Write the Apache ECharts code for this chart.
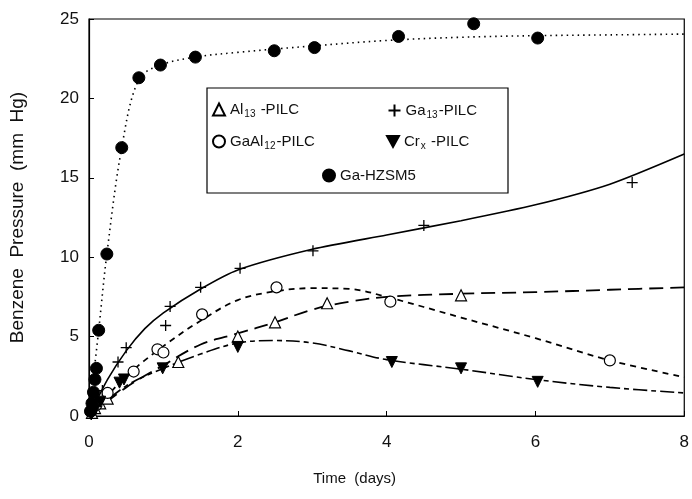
<!DOCTYPE html>
<html>
<head>
<meta charset="utf-8">
<script src="https://cdn.jsdelivr.net/npm/echarts@6/dist/echarts.min.js"></script>
<style>html,body{margin:0;padding:0;background:#fff;}#c{width:692px;height:499px;}</style>
</head>
<body>
<div id="c"></div>
<script>
// ---- data ----
const xTicks = [0, 2, 4, 6, 8];
const yTicks = [0, 5, 10, 15, 20, 25];

const al13Pts   = [[0.04,0.2],[0.08,0.5],[0.15,0.8],[0.25,1.1],[1.2,3.4],[2.0,5.0],[2.5,5.9],[3.2,7.1],[5.0,7.6]];
const ga13Pts   = [[0.04,0.4],[0.1,0.9],[0.18,1.6],[0.39,3.4],[0.5,4.3],[1.03,5.7],[1.09,6.9],[1.5,8.1],[2.03,9.3],[3.01,10.4],[4.5,12.0],[7.3,14.7]];
const gaal12Pts = [[0.03,0.3],[0.1,0.7],[0.25,1.45],[0.6,2.8],[0.92,4.2],[1.0,4.0],[1.52,6.4],[2.52,8.1],[4.05,7.2],[7.0,3.5]];
const crxPts    = [[0.03,0.1],[0.08,0.4],[0.15,0.9],[0.41,2.1],[0.47,2.3],[0.99,3.0],[2.0,4.35],[4.07,3.4],[5.0,3.0],[6.03,2.15]];
const hzsm5Pts  = [[0.02,0.3],[0.04,0.8],[0.06,1.5],[0.08,2.3],[0.1,3.0],[0.13,5.4],[0.24,10.2],[0.44,16.9],[0.67,21.3],[0.96,22.1],[1.43,22.6],[2.49,23.0],[3.03,23.2],[4.16,23.9],[5.17,24.7],[6.03,23.8]];

// fitted curves as drawn in the picture
const al13Curve   = [[0,0],[0.5,1.8],[1,3.2],[1.5,4.5],[2,5.2],[2.5,5.9],[3,6.7],[3.5,7.2],[4,7.5],[5,7.7],[6,7.8],[7,7.95],[8,8.1]];
const ga13Curve   = [[0,0],[0.25,2.3],[0.5,4.1],[0.75,5.5],[1,6.5],[1.5,8.0],[2,9.2],[3,10.5],[4,11.4],[5,12.3],[6,13.3],[7,14.6],[8,16.5]];
const gaal12Curve = [[0,0],[0.5,2.5],[1,4.4],[1.5,6.0],[2,7.3],[2.5,7.85],[3,8.05],[3.5,8.0],[4,7.5],[5,6.2],[6,4.9],[7,3.5],[8,2.45]];
const crxCurve    = [[0,0],[0.5,1.9],[1,3.0],[1.5,3.9],[2,4.6],[2.5,4.75],[3,4.6],[3.5,4.1],[4,3.55],[5,2.95],[6,2.3],[7,1.8],[8,1.45]];
const hzsm5Curve  = [[0,0],[0.13,5.4],[0.24,10.2],[0.44,16.9],[0.67,21.2],[0.96,22.1],[1.43,22.6],[2,22.9],[3,23.3],[4,23.65],[5,23.85],[6,23.95],[7,24.0],[8,24.05]];

const names = ['Al13-PILC','Ga13-PILC','GaAl12-PILC','Crx-PILC','Ga-HZSM5'];
const richNames = {
  'Al13-PILC':   '{t|Al}{s|13}{t| -PILC}',
  'Ga13-PILC':   '{t|Ga}{s|13}{t|-PILC}',
  'GaAl12-PILC': '{t|GaAl}{s|12}{t|-PILC}',
  'Crx-PILC':    '{t|Cr}{s|x}{t| -PILC}',
  'Ga-HZSM5':    '{t|Ga-HZSM5}'
};
const legendIcons = {
  'Crx-PILC': 'path://M0,0L12,0L6,11Z'
};

const FONT = 'Liberation Sans';
const chart = echarts.init(document.getElementById('c'));

function curve(data, type, width, smooth) {
  return {
    type: 'line', data: data, smooth: smooth, symbol: 'none', silent: true,
    lineStyle: { color: '#000', width: width, type: type }, z: 2
  };
}
function pts(name, data, symbol, itemStyle, size, rotate) {
  return {
    type: 'scatter', name: name, data: data, symbol: symbol, symbolSize: size,
    symbolRotate: rotate || 0, itemStyle: Object.assign({ opacity: 1 }, itemStyle), z: 3
  };
}

const legendPos = [
  { left: 212, top: 102 },
  { left: 386, top: 102 },
  { left: 212, top: 134 },
  { left: 386, top: 134 },
  { left: 322, top: 168 }
];

const option = {
  backgroundColor: '#fff',
  animation: false,
  grid: { left: 88, right: 5, top: 19, bottom: 83, show: true, borderColor: '#000', borderWidth: 1.2, backgroundColor: 'transparent' },
  xAxis: {
    type: 'value', min: 0, max: 8, interval: 2,
    name: 'Time  (days)', nameLocation: 'middle', nameGap: 55,
    nameTextStyle: { fontFamily: FONT, fontSize: 15, color: '#111', padding: [0, 64, 0, 0] },
    axisLine: { show: true, lineStyle: { color: '#000', width: 1.2 } },
    axisTick: { show: true, inside: true, length: 5, lineStyle: { color: '#000' } },
    axisLabel: { fontFamily: FONT, fontSize: 17, color: '#111', margin: 18 },
    splitLine: { show: false }
  },
  yAxis: {
    type: 'value', min: 0, max: 25, interval: 5,
    name: 'Benzene  Pressure  (mm  Hg)', nameLocation: 'middle', nameGap: 62,
    nameTextStyle: { fontFamily: FONT, fontSize: 19, color: '#111' },
    axisLine: { show: true, lineStyle: { color: '#000', width: 1.2 } },
    axisTick: { show: true, inside: true, length: 5, lineStyle: { color: '#000' } },
    axisLabel: { fontFamily: FONT, fontSize: 17, color: '#111', margin: 10 },
    splitLine: { show: false }
  },
  graphic: [{
    type: 'rect', shape: { x: 207, y: 88, width: 301, height: 105 },
    style: { fill: '#fff', stroke: '#000', lineWidth: 1.2 }, z: 1
  }],
  legend: names.map((n, i) => ({
    data: [legendIcons[n] ? { name: n, icon: legendIcons[n] } : n],
    left: legendPos[i].left, top: legendPos[i].top,
    itemWidth: 12, itemHeight: 12, padding: 0,
    formatter: (name) => richNames[name],
    textStyle: {
      fontFamily: FONT, fontSize: 15, color: '#111',
      rich: {
        t: { fontFamily: FONT, fontSize: 15, color: '#111' },
        s: { fontFamily: FONT, fontSize: 10, color: '#111', padding: [9, 1, 0, 1] }
      }
    },
    selectedMode: false, z: 5
  })),
  series: [
    curve(al13Curve, [14, 7], 1.8, 0.35),
    curve(ga13Curve, 'solid', 1.6, 0.25),
    curve(gaal12Curve, [6, 5], 1.8, 0.35),
    curve(crxCurve, [14, 4, 5, 4], 1.6, 0.35),
    curve(hzsm5Curve, [1.5, 4], 1.6, 0.35),
    pts('Al13-PILC', al13Pts, 'triangle', { color: '#fff', borderColor: '#000', borderWidth: 1.2 }, 11),
    pts('Ga13-PILC', ga13Pts, 'path://M0,6H12M6,0V12', { color: 'none', borderColor: '#000', borderWidth: 1.3 }, 11),
    pts('GaAl12-PILC', gaal12Pts, 'circle', { color: '#fff', borderColor: '#000', borderWidth: 1.2 }, 11),
    pts('Crx-PILC', crxPts, 'triangle', { color: '#000', borderColor: '#000', borderWidth: 1 }, 11, 180),
    pts('Ga-HZSM5', hzsm5Pts, 'circle', { color: '#000', borderColor: '#000', borderWidth: 1 }, 12)
  ]
};
chart.setOption(option);
</script>
</body>
</html>
